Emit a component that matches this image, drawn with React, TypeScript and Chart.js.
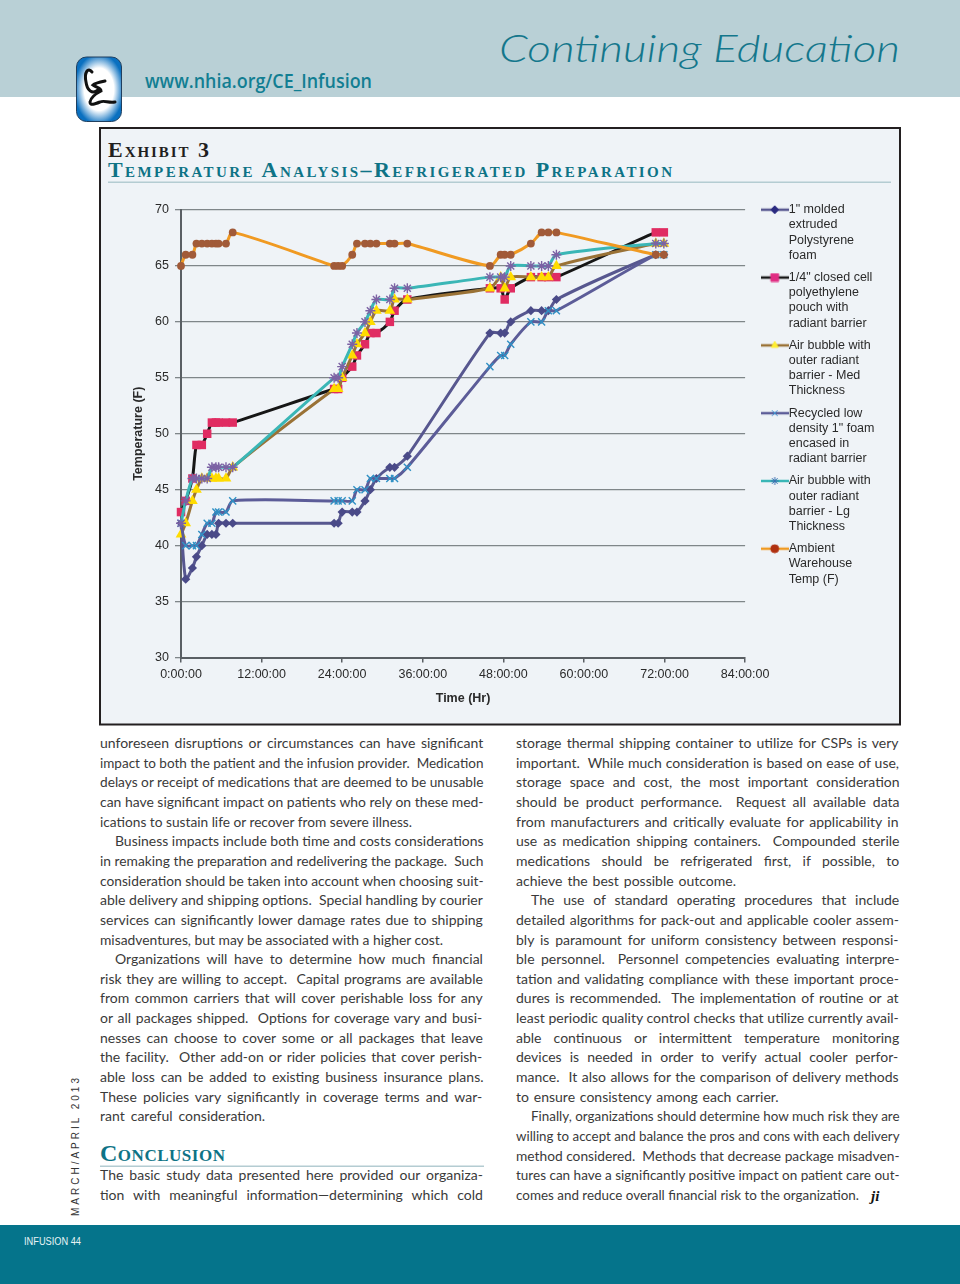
import React, { useEffect, useRef } from "react";
import { Chart, registerables } from "chart.js";
import { drawPoint } from "chart.js/helpers";

Chart.register(...registerables);

const hours = [0, 0.7, 1.7, 2.3, 3.1, 3.9, 4.6, 5.2, 5.6, 6.7, 7.7, 22.8, 23.4, 24, 25.5, 26.2, 27.4, 28.2, 29.1, 31.1, 31.8, 33.7, 46, 47.6, 48.2, 49.1, 52.1, 53.7, 54.7, 55.9, 70.7, 71.9];
const polystyrene = [42, 37, 38, 39, 40, 41, 41, 41, 42, 42, 42, 42, 42, 43, 43, 43, 44, 45, 46, 47, 47, 48, 59, 59, 59, 60, 61, 61, 61, 62, 66, 66];
const closedCell = [43, 44, 46, 49, 49, 50, 51, 51, 51, 51, 51, 54, 54, 55, 56, 57, 58, 59, 59, 60, 61, 62, 63, 63, 62, 63, 64, 64, 64, 64, 68, 68];
const bubbleMed = [41, 42, 44, 45, 46, 46, 46, 46, 46, 46, 47, 54, 54, 55, 57, 58, 59, 60, 61, 61, 62, 62, 63, 64, 63, 64, 64, 64, 64, 65, 67, 67];
const recycled = [42, 40, 40, 40, 41, 42, 42, 43, 43, 43, 44, 44, 44, 44, 44, 45, 45, 46, 46, 46, 46, 47, 56, 57, 57, 58, 60, 60, 61, 61, 66, 66];
const bubbleLg = [42, 44, 46, 46, 46, 46, 47, 47, 47, 47, 47, 55, 55, 56, 58, 59, 60, 61, 62, 62, 63, 63, 64, 64, 64, 65, 65, 65, 65, 66, 67, 67];
const ambient = [65, 66, 66, 67, 67, 67, 67, 67, 67, 67, 68, 65, 65, 65, 66, 67, 67, 67, 67, 67, 67, 67, 65, 66, 66, 66, 67, 68, 68, 68, 66, 66];

const legendLabels = [
  ['1" molded', "extruded", "Polystyrene", "foam"],
  ['1/4" closed cell', "polyethylene", "pouch with", "radiant barrier"],
  ["Air bubble with", "outer radiant", "barrier - Med", "Thickness"],
  ["Recycled low", 'density 1" foam', "encased in", "radiant barrier"],
  ["Air bubble with", "outer radiant", "barrier - Lg", "Thickness"],
  ["Ambient", "Warehouse", "Temp (F)"],
];
const yTicksMin = 30;
const yTicksMax = 70;
const xTicksMax = 84;
const xTickStep = 12;
const yTickStep = 5;

const seriesValues = [polystyrene, closedCell, bubbleMed, recycled, bubbleLg, ambient];
const lineColors = ["#57578f", "#161616", "#9a7236", "#5c5c98", "#3ab6b6", "#f09a22"];
const markerColors = ["#4a4a88", "#e02c62", "#ffdc00", "#2f90c4", "#7c62a4", "#a15a38"];
const legendMarkerColors = ["#2a2a80", "#e02c82", "#ffee30", "#3a8fd0", "#3a6fb0", "#b03010"];
const markerStyles = ["rectRot", "rect", "triangle", "crossRot", "star", "circle"];
const markerRadii = [4.6, 6, 6.2, 5, 5, 3.9];
const lineWidths = [3, 3, 3, 3, 3, 3];

function legendSymbol(i: number) {
  const c = document.createElement("canvas");
  c.width = 28;
  c.height = 10;
  const ctx = c.getContext("2d")!;
  ctx.strokeStyle = lineColors[i];
  ctx.lineWidth = 2.5;
  ctx.beginPath();
  ctx.moveTo(0, 5);
  ctx.lineTo(28, 5);
  ctx.stroke();
  ctx.fillStyle = legendMarkerColors[i];
  ctx.strokeStyle = legendMarkerColors[i];
  ctx.lineWidth = 1;
  drawPoint(ctx, { pointStyle: markerStyles[i], radius: i === 1 ? 5.5 : 4, rotation: 0, borderWidth: 1 }, 14, 5);
  return c;
}

function ChartPanel() {
  const ref = useRef<HTMLCanvasElement>(null);
  useEffect(() => {
    const symbols = seriesValues.map((_, i) => legendSymbol(i));
    const chart = new Chart(ref.current!, {
      type: "scatter",
      data: {
        datasets: seriesValues.map((vals, i) => ({
          label: legendLabels[i].join(" "),
          data: hours.map((h, k) => ({ x: h, y: vals[k] })),
          showLine: true,
          clip: false,
          borderColor: lineColors[i],
          borderWidth: lineWidths[i],
          tension: 0.25,
          pointStyle: markerStyles[i],
          pointRadius: markerRadii[i],
          pointBackgroundColor: markerColors[i],
          pointBorderColor: markerColors[i],
          pointBorderWidth: i === 3 || i === 4 ? 1.4 : 0,
          order: seriesValues.length - i,
        })),
      },
      options: {
        animation: false,
        responsive: false,
        layout: { padding: { top: 20, left: 0, right: 31.5, bottom: 0 } },
        plugins: {
          tooltip: { enabled: false },
          title: { display: false },
          legend: {
            position: "right",
            align: "start",
            labels: {
              usePointStyle: true,
              pointStyleWidth: 15.5,
              padding: 7,
              color: "#2a2a2a",
              font: { family: "Liberation Sans", size: 12.5, lineHeight: 1.216 },
              generateLabels: () =>
                seriesValues.map((_, i) => ({
                  text: legendLabels[i] as any,
                  pointStyle: symbols[i],
                  datasetIndex: i,
                  hidden: false,
                  lineWidth: 0,
                  fontColor: "#2a2a2a",
                })),
            },
          },
        },
        scales: {
          x: {
            type: "linear",
            min: 0,
            max: xTicksMax,
            afterFit: (s: any) => { s.height = 57.5; },
            ticks: {
              stepSize: xTickStep,
              color: "#2a2a2a",
              padding: 4.5,
              maxRotation: 0,
              autoSkip: false,
              font: { family: "Liberation Sans", size: 12.5 },
              callback: (v: any) => `${v}:00:00`,
            },
            grid: { drawOnChartArea: false, color: "#5a5f64", lineWidth: 1.5, tickLength: 5 },
            border: { color: "#5a5f64", width: 2 },
            title: {
              display: true,
              text: "Time (Hr)",
              color: "#2a2a2a",
              padding: { top: 7, bottom: 9 },
              font: { family: "Liberation Sans", size: 12.5, weight: "bold" },
            },
          },
          y: {
            min: yTicksMin,
            max: yTicksMax,
            afterFit: (s: any) => { s.width = 80; },
            ticks: {
              stepSize: yTickStep,
              color: "#2a2a2a",
              padding: 6,
              font: { family: "Liberation Sans", size: 12.5 },
            },
            grid: { color: "#7f8689", lineWidth: 1.3, tickLength: 6 },
            border: { color: "#5a5f64", width: 2 },
            title: {
              display: true,
              text: "Temperature (F)",
              color: "#2a2a2a",
              padding: { top: 30, bottom: 0 },
              font: { family: "Liberation Sans", size: 12.5, weight: "bold" },
            },
          },
        },
      },
      plugins: [
        {
          id: "legendGap",
          afterLayout(c: any) {
            const w = c.legend.right - c.legend.left;
            c.legend.left = 659;
            c.legend.right = 659 + w;
            c.legend.top -= 13.5;
            c.legend.bottom -= 13.5;
          },
        },
      ],
    } as any);
    return () => chart.destroy();
  }, []);
  return <canvas ref={ref} width={798} height={525} style={{ position: "absolute", left: 101, top: 190, width: 798, height: 525 }} />;
}

type L = [string, number?, number?];
// [text, left inset, right end (omitted: full column width)]
const leftColumn: L[] = [
  ["unforeseen disruptions or circumstances can have significant"],
  ["impact to both the patient and the infusion provider.  Medication"],
  ["delays or receipt of medications that are deemed to be unusable"],
  ["can have significant impact on patients who rely on these med-"],
  ["ications to sustain life or recover from severe illness.", 0, 312],
  ["Business impacts include both time and costs considerations", 15],
  ["in remaking the preparation and redelivering the package.  Such"],
  ["consideration should be taken into account when choosing suit-"],
  ["able delivery and shipping options.  Special handling by courier"],
  ["services can significantly lower damage rates due to shipping"],
  ["misadventures, but may be associated with a higher cost.", 0, 343],
  ["Organizations will have to determine how much financial", 15],
  ["risk they are willing to accept.  Capital programs are available"],
  ["from common carriers that will cover perishable loss for any"],
  ["or all packages shipped.  Options for coverage vary and busi-"],
  ["nesses can choose to cover some or all packages that leave"],
  ["the facility.  Other add-on or rider policies that cover perish-"],
  ["able loss can be added to existing business insurance plans."],
  ["These policies vary significantly in coverage terms and war-"],
  ["rant careful consideration.", 0, 165],
];
const conclusionLines: L[] = [
  ["The basic study data presented here provided our organiza-"],
  ["tion with meaningful information\u2014determining which cold"],
];
const rightColumn: L[] = [
  ["storage thermal shipping container to utilize for CSPs is very"],
  ["important.  While much consideration is based on ease of use,"],
  ["storage space and cost, the most important consideration"],
  ["should be product performance.  Request all available data"],
  ["from manufacturers and critically evaluate for applicability in"],
  ["use as medication shipping containers.  Compounded sterile"],
  ["medications should be refrigerated first, if possible, to"],
  ["achieve the best possible outcome.", 0, 220],
  ["The use of standard operating procedures that include", 15],
  ["detailed algorithms for pack-out and applicable cooler assem-"],
  ["bly is paramount for uniform consistency between responsi-"],
  ["ble personnel.  Personnel competencies evaluating interpre-"],
  ["tation and validating compliance with these important proce-"],
  ["dures is recommended.  The implementation of routine or at"],
  ["least periodic quality control checks that utilize currently avail-"],
  ["able continuous or intermittent temperature monitoring"],
  ["devices is needed in order to verify actual cooler perfor-"],
  ["mance.  It also allows for the comparison of delivery methods"],
  ["to ensure consistency among each carrier.", 0, 263],
  ["Finally, organizations should determine how much risk they are", 15],
  ["willing to accept and balance the pros and cons with each delivery"],
  ["method considered.  Methods that decrease package misadven-"],
  ["tures can have a significantly positive impact on patient care out-"],
  ["comes and reduce overall financial risk to the organization.", 0, 343],
];

const measureCtx = document.createElement("canvas").getContext("2d")!;

function Lines({ lines, x, y, width = 383.5 }: { lines: L[]; x: number; y: number; width?: number }) {
  measureCtx.font = "14px Lato";
  return (
    <>
      {lines.map(([t, inset = 0, end = width], i) => {
        const target = end - inset;
        const natural = measureCtx.measureText(t).width;
        const spaces = t.split(" ").length - 1;
        const stretch = natural < target;
        return (
          <text
            key={i}
            x={x + inset}
            y={y + i * 19.65}
            {...(stretch
              ? { wordSpacing: (target - natural) / Math.max(spaces, 1) }
              : { textLength: target, lengthAdjust: "spacingAndGlyphs" })}
            xmlSpace="preserve"
            fontFamily="Lato"
            fontSize={14}
            fill="#3a3a3a"
          >
            {t}
          </text>
        );
      })}
    </>
  );
}

function Page() {
  return (
    <svg width={960} height={1284} style={{ position: "absolute", left: 0, top: 0 }}>
      <defs>
        <radialGradient id="logoGlow" cx="50%" cy="50%" r="55%">
          <stop offset="60%" stopColor="#ffffff" />
          <stop offset="100%" stopColor="#0a70c0" />
        </radialGradient>
      </defs>
      <rect x={0} y={0} width={960} height={97} fill="#b9d0d6" />
      <rect x={76.5} y={57} width={45} height={64.5} rx={10} fill="url(#logoGlow)" stroke="#1f3f5f" strokeWidth={1} />
      <path d="M92 72 C88 67 84 72 86 82 C87 90 92 95 98 90 M105 81 C100 82 95 83 93 85 C97 88 101 88 101 91 C97 93 91 97 90 102 C90 106 95 104 100 102 C104 100 108 103 115 102" fill="none" stroke="#111" strokeWidth={3} strokeLinecap="round" />
      <text x={145} y={88} textLength={227} lengthAdjust="spacingAndGlyphs" fontFamily="Open Sans" fontWeight={600} fontSize={19} fill="#127e92">www.nhia.org/CE_Infusion</text>
      <text x={499} y={62} textLength={401} lengthAdjust="spacingAndGlyphs" fontFamily="Lato" fontStyle="italic" fontWeight={300} fontSize={37} fill="#14778c">Continuing Education</text>

      <rect x={100} y={128} width={800} height={596.5} fill="#eff3f7" stroke="#231f20" strokeWidth={2} />
      <text x={108} y={157} textLength={101} lengthAdjust="spacing" fontFamily="Liberation Serif" fontWeight={700} fontSize={22} style={{ fontVariant: "small-caps" }} fill="#1f1f1f">Exhibit 3</text>
      <text x={108} y={177} textLength={564} lengthAdjust="spacing" fontFamily="Liberation Serif" fontWeight={700} fontSize={22} style={{ fontVariant: "small-caps" }} fill="#0e7386">{"Temperature Analysis\u2013Refrigerated Preparation"}</text>
      <rect x={108} y={181.5} width={783} height={1.5} fill="#b4ccd2" />

      <Lines lines={leftColumn} x={100} y={748} />
      <text x={100} y={1161} textLength={125} lengthAdjust="spacing" fontFamily="Liberation Serif" fontWeight={700} fontSize={24} style={{ fontVariant: "small-caps" }} fill="#0e7386">Conclusion</text>
      <rect x={100} y={1165.5} width={384} height={1.5} fill="#b4ccd2" />
      <Lines lines={conclusionLines} x={100} y={1180} />
      <Lines lines={rightColumn} x={516} y={748} />
      <text x={871} y={1201} fontFamily="Liberation Serif" fontWeight={700} fontStyle="italic" fontSize={15} fill="#111">ji</text>

      <text transform="translate(79 1216) rotate(-90)" textLength={138} lengthAdjust="spacing" fontFamily="Liberation Sans" fontSize={10} fill="#333">MARCH/APRIL 2013</text>
      <rect x={0} y={1225} width={960} height={59} fill="#05748b" />
      <text x={24} y={1245} textLength={57} lengthAdjust="spacingAndGlyphs" fontFamily="Liberation Sans" fontSize={10} fill="#e8f4f6">INFUSION 44</text>
    </svg>
  );
}

export default function App() {
  return (
    <div style={{ position: "absolute", left: 0, top: 0, width: 960, height: 1284, overflow: "hidden", background: "#ffffff" }}>
      <Page />
      <ChartPanel />
    </div>
  );
}
